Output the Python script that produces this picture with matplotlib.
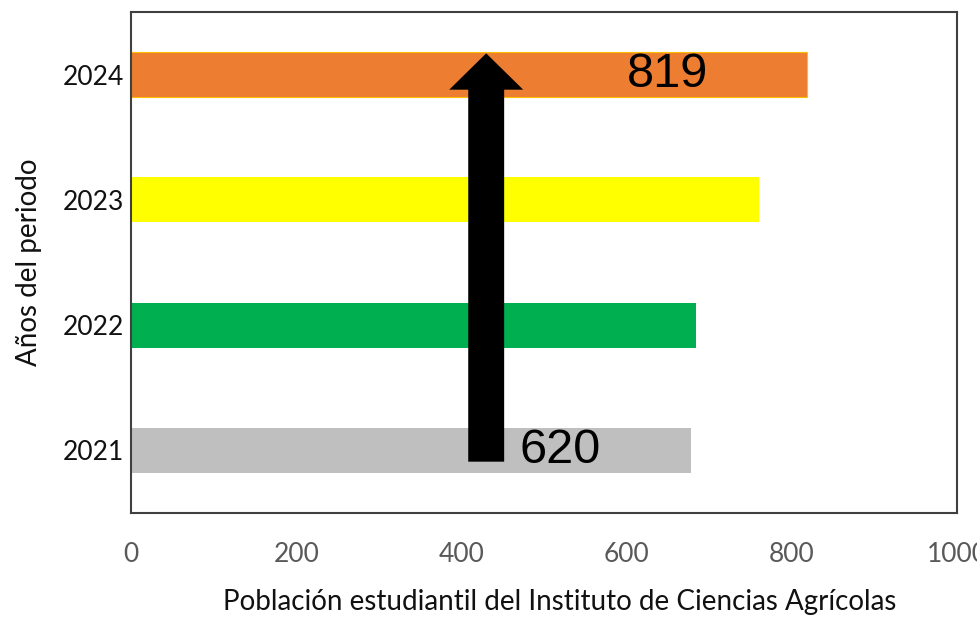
import matplotlib
matplotlib.use("Agg")
import matplotlib.pyplot as plt
from matplotlib.patches import FancyArrow

# DATA
YEARS = ["2021", "2022", "2023", "2024"]
STUDENTS = [678, 684, 760, 819]
BAR_COLORS = ["#BFBFBF", "#00B050", "#FFFF00", "#ED7D31"]
START_LABEL = "620"
END_LABEL = "819"

X_LABEL = "Población estudiantil del Instituto de Ciencias Agrícolas"
Y_LABEL = "Años del periodo"


def main():
    plt.rcParams["font.family"] = ["Lato", "DejaVu Sans"]

    fig = plt.figure(figsize=(9.78, 6.19), dpi=100)
    ax = fig.add_axes([0.134, 0.1712, 0.8445, 0.8094])

    ypos = list(range(len(YEARS)))
    bars = ax.barh(ypos, STUDENTS, height=0.36, color=BAR_COLORS, zorder=2)
    # thin golden edge on the 2024 bar
    bars[-1].set_edgecolor("#FFC000")
    bars[-1].set_linewidth(0.8)

    ax.set_xlim(0, 1000)
    ax.set_ylim(-0.5, len(YEARS) - 0.5)
    ax.set_yticks(ypos)
    ax.set_yticklabels(YEARS)
    ax.set_xticks(range(0, 1001, 200))

    ax.tick_params(axis="x", length=0, pad=21, labelsize=19, labelcolor="#595959")
    ax.tick_params(axis="y", length=0, pad=5, labelsize=19, labelcolor="#111111")
    for s in ax.spines.values():
        s.set_color("#404040")
        s.set_linewidth(1.5)

    ax.set_xlabel(X_LABEL, fontsize=20, color="#111111")
    ax.xaxis.set_label_coords(0.519, -0.152)
    ax.set_ylabel(Y_LABEL, fontsize=20, color="#111111", labelpad=15)

    # growth arrow from first to last year
    arrow_x = 430
    ax.add_patch(FancyArrow(arrow_x, -0.09, 0, 3.26, width=43.5,
                            head_width=89.5, head_length=0.29,
                            length_includes_head=True, color="black",
                            lw=0, zorder=3))

    ax.text(650, len(YEARS) - 1, END_LABEL, fontsize=35, ha="center",
            va="center", family="Liberation Sans", zorder=4)
    ax.text(519, 0, START_LABEL, fontsize=35, ha="center", va="center",
            family="Liberation Sans", zorder=4)

    fig.savefig("out.png", dpi=100)


if __name__ == "__main__":
    main()
